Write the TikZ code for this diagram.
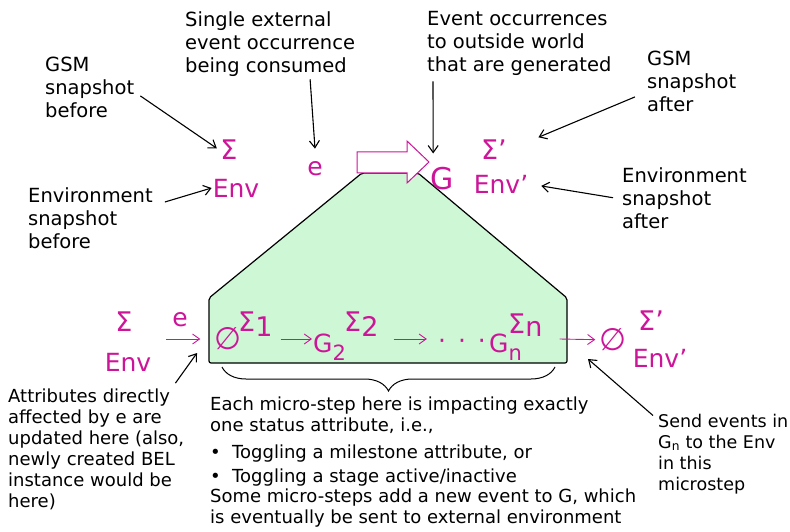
\documentclass[tikz,border=0pt]{standalone}
\usepackage{fontspec}
\setmainfont{DejaVu Sans}
\usetikzlibrary{arrows.meta,decorations.pathreplacing}
\definecolor{ink}{HTML}{000000}
\definecolor{mag}{HTML}{CC1599}
\definecolor{stagefill}{HTML}{CEF7D5}

\begin{document}
\begin{tikzpicture}[
  x=1pt, y=-1pt,
  >={Straight Barb[length=7pt,width=10pt]},
  note/.style={font=\fontsize{19.5}{23}\selectfont, align=left, inner sep=0pt, text=ink, anchor=base west},
  smallnote/.style={note, font=\fontsize{18}{21}\selectfont},
  sym/.style={text=mag, font=\fontsize{25}{27}\selectfont, inner sep=1pt},
  bigsym/.style={sym, font=\fontsize{27}{29}\selectfont},
  emptyset/.style={sym, font=\fontsize{31}{33}\selectfont},
  pointer/.style={->, draw=ink, line width=1.1pt},
  flow/.style={->, draw=mag, line width=0.9pt},
  stage/.style={draw=ink, fill=stagefill, line width=1.2pt, rounded corners=2pt},
  outbox/.style={draw=mag, fill=white, line width=1pt},
  brace/.style={decorate, decoration={brace, mirror, amplitude=24pt}, draw=ink, line width=1pt}
]
\useasboundingbox (0,0) rectangle (790,532);

\coordinate (lb) at (209,363);
\coordinate (lt) at (209,298);
\coordinate (tl) at (362,173);
\coordinate (tr) at (418,173);
\coordinate (rt) at (567,298);
\coordinate (rb) at (567,363);
\draw[stage] (lb) -- (lt) -- (tl) -- (tr) -- (rt) -- (rb) -- cycle;
\draw[outbox] (357,152) -- (407,152) -- (407,141) -- (429,162) -- (407,183) -- (407,173) -- (357,173) -- cycle;

\node[note] (gsmBefore) at (45,118) {GSM\\snapshot\\before};
\node[note] (envBefore) at (28,248) {Environment\\snapshot\\before};
\node[note] (eventIn) at (185,73) {Single external\\event occurrence\\being consumed};
\node[note] (eventsOut) at (427,72) {Event occurrences\\to outside world\\that are generated};
\node[note] (gsmAfter) at (647,112) {GSM\\snapshot\\after};
\node[note] (envAfter) at (622,228) {Environment\\snapshot\\after};

\node[bigsym] (sigmaIn) at (229,150) {Σ};
\node[sym] (envIn) at (236,188) {Env};
\node[sym] (eIn) at (315,169) {e};
\node[sym, font=\fontsize{30}{32}\selectfont] (gOut) at (442,179) {G};
\node[bigsym] (sigmaOut) at (494,150) {Σ’};
\node[sym] (envOut) at (501,184) {Env’};

\draw[pointer, shorten >=3pt] ([xshift=6pt,yshift=-8pt]gsmBefore.east) -- (sigmaIn.west);
\draw[pointer] ([xshift=12pt,yshift=-15pt]envBefore.north east) -- (envIn.west);
\draw[pointer] ([xshift=40pt,yshift=-2pt]eventIn.south) -- ([yshift=12pt]eIn.north);
\draw[pointer] ([xshift=6pt,yshift=-5pt]eventsOut.south west) -- ([xshift=4pt,yshift=13pt]gOut.north west);
\draw[pointer, shorten >=33pt] ([xshift=-12pt,yshift=-15pt]gsmAfter.west) -- (sigmaOut.east);
\draw[pointer, shorten >=12pt] ([xshift=-9pt]envAfter.west) -- (envOut.east);

\node[bigsym] (sigmaL) at (124,322) {Σ};
\node[sym] (envL) at (128,362) {Env};
\node[sym] (eL) at (180,320) {e};

\node[emptyset] (emptyA) at (228,339) {∅};
\node[bigsym, anchor=base west] (sig1) at (237,331) {Σ\raisebox{-5pt}{1}};
\node[sym, anchor=base west] (g2) at (312,352) {G\raisebox{-8pt}{\fontsize{21}{22}\selectfont 2}};
\node[bigsym, anchor=base west] (sig2) at (343,331) {Σ\raisebox{-5pt}{2}};
\node[sym, anchor=base] (dots) at (462,349) {·\hspace{12pt}·\hspace{12pt}·};
\node[sym, anchor=base west] (gn) at (488,352) {G\raisebox{-8pt}{\fontsize{21}{22}\selectfont n}};
\node[bigsym, anchor=base west] (sign) at (507,333) {Σ\raisebox{-3pt}{n}};
\node[emptyset] (emptyB) at (613,340) {∅};
\node[bigsym] (sigmaR) at (651,321) {Σ’};
\node[sym] (envR) at (660,358) {Env’};

\draw[flow, shorten >=13pt] ([xshift=-5pt]eL.west |- emptyA) -- (emptyA);
\draw[flow] ([xshift=7pt]sig1.east |- emptyA) -- (g2.west |- emptyA);
\draw[flow, shorten >=10pt] ([xshift=14pt]sig2.east |- emptyA) -- (dots.west |- emptyA);
\draw[flow, shorten >=3pt] ([xshift=16pt]sign.east |- emptyA) -- (emptyB);

\node[smallnote] (attrib) at (8,507) {Attributes directly\\affected by e are\\updated here (also,\\newly created BEL\\instance would be\\here)};
\node[smallnote] (steps) at (210,523) {Each micro-step here is impacting exactly\\one status attribute, i.e.,\\[6pt]\makebox[22pt][l]{•}Toggling a milestone attribute, or\\[3pt]\makebox[22pt][l]{•}Toggling a stage active/inactive\\[-1pt]Some micro-steps add a new event to G, which\\is eventually be sent to external environment};
\node[smallnote, font=\fontsize{17.5}{21}\selectfont] (send) at (658,490) {Send events in\\G\textsubscript{n} to the Env\\in this\\microstep};

\draw[pointer] ([xshift=-9pt,yshift=5pt]attrib.north east) -- ([xshift=-12pt,yshift=10pt]lb);
\draw[pointer] ([xshift=-5pt,yshift=-2pt]send.north west) -- ([xshift=21pt,yshift=4pt]rb);
\draw[brace] ([xshift=13pt,yshift=-4pt]lb) -- ([xshift=-12pt,yshift=-4pt]rb);
\end{tikzpicture}
\end{document}
